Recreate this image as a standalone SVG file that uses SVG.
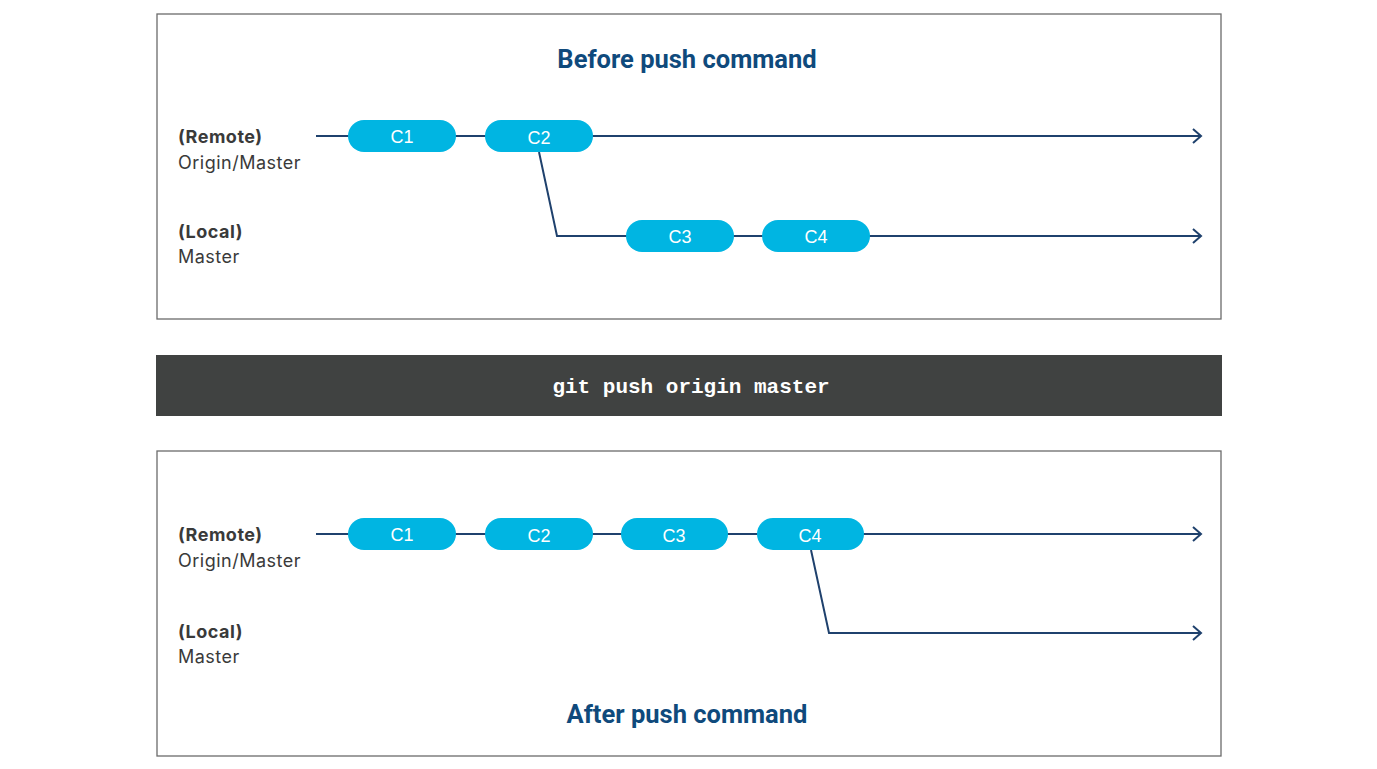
<svg xmlns="http://www.w3.org/2000/svg" width="1377" height="769" viewBox="0 0 1377 769">
<defs>
<marker id="arr" markerWidth="12" markerHeight="16" refX="10" refY="8" orient="auto" markerUnits="userSpaceOnUse">
<path d="M2,1 L10,8 L2,15" fill="none" stroke="#1f416d" stroke-width="2"/>
</marker>
</defs>
<style>
.frame{fill:#fff;stroke:#6b6b6b;stroke-width:1.3}
.title{font-family:Roboto,"Liberation Sans",sans-serif;font-weight:bold;font-size:25.5px;fill:#0f4a7c;text-anchor:middle}
.lb{font-family:Inter,"Liberation Sans",Arial,sans-serif;font-weight:bold;font-size:18px;letter-spacing:0.5px;fill:#3a3a3a}
.lt{font-family:Inter,"Liberation Sans",Arial,sans-serif;font-size:18px;letter-spacing:0.5px;fill:#3a3a3a}
.pill{fill:#00b5e2}
.pt{font-family:"Liberation Sans",Arial,sans-serif;font-size:18px;fill:#fff;text-anchor:middle}
.ln{fill:none;stroke:#1f416d;stroke-width:2}
.cmd{font-family:"Liberation Mono","Courier New",monospace;font-weight:bold;font-size:21px;fill:#fff;text-anchor:middle}
</style>
<rect width="1377" height="769" fill="#fff"/>

<g id="before-frame">
<rect class="frame" x="157" y="14" width="1064" height="305"/>
<text class="title" x="687" y="68">Before push command</text>
<text class="lb" x="178" y="143">(Remote)</text>
<text class="lt" x="178" y="169">Origin/Master</text>
<text class="lb" x="178" y="238">(Local)</text>
<text class="lt" x="178" y="263">Master</text>
</g>

<g id="command-bar">
<rect x="156" y="355" width="1066" height="61" fill="#404241"/>
<text class="cmd" x="691" y="393">git push origin master</text>
</g>

<g id="after-frame">
<rect class="frame" x="157" y="451" width="1064" height="305"/>
<text class="title" x="687" y="723">After push command</text>
<text class="lb" x="178" y="541">(Remote)</text>
<text class="lt" x="178" y="567">Origin/Master</text>
<text class="lb" x="178" y="638">(Local)</text>
<text class="lt" x="178" y="663">Master</text>
</g>

<g id="connectors">
<line class="ln" x1="316" y1="136" x2="1201" y2="136" marker-end="url(#arr)"/>
<polyline class="ln" points="539,152 557,236 1201,236" marker-end="url(#arr)"/>
<line class="ln" x1="316" y1="534" x2="1201" y2="534" marker-end="url(#arr)"/>
<polyline class="ln" points="811,550 829,633 1201,633" marker-end="url(#arr)"/>
</g>

<g id="b-c1"><rect class="pill" x="348" y="120" width="108" height="32" rx="16"/><text class="pt" x="402" y="143">C1</text></g>
<g id="b-c2"><rect class="pill" x="485" y="120" width="108" height="32" rx="16"/><text class="pt" x="539" y="144">C2</text></g>
<g id="b-c3"><rect class="pill" x="626" y="220" width="108" height="32" rx="16"/><text class="pt" x="680" y="243">C3</text></g>
<g id="b-c4"><rect class="pill" x="762" y="220" width="108" height="32" rx="16"/><text class="pt" x="816" y="243">C4</text></g>

<g id="a-c1"><rect class="pill" x="348" y="518" width="108" height="32" rx="16"/><text class="pt" x="402" y="541">C1</text></g>
<g id="a-c2"><rect class="pill" x="485" y="518" width="108" height="32" rx="16"/><text class="pt" x="539" y="542">C2</text></g>
<g id="a-c3"><rect class="pill" x="621" y="518" width="107" height="32" rx="16"/><text class="pt" x="674" y="542">C3</text></g>
<g id="a-c4"><rect class="pill" x="757" y="518" width="107" height="32" rx="16"/><text class="pt" x="810" y="542">C4</text></g>
</svg>
